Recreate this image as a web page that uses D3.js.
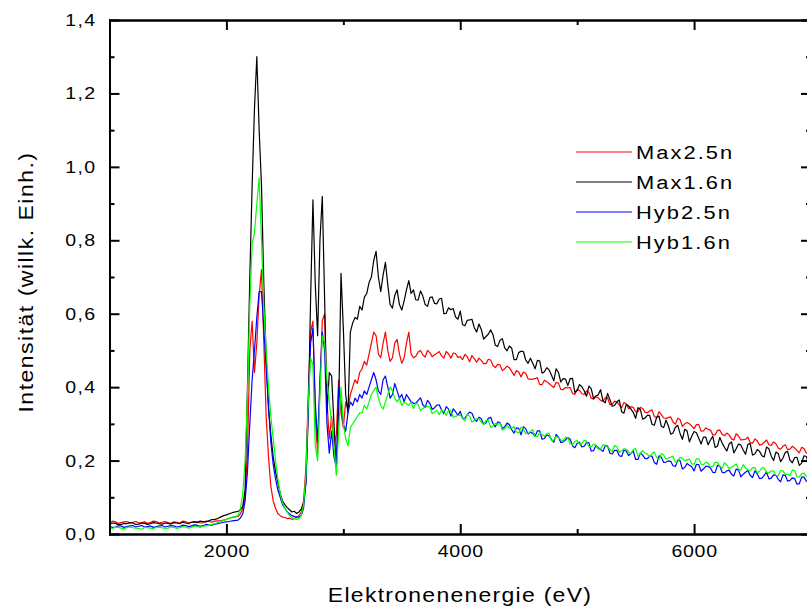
<!DOCTYPE html>
<html>
<head>
<meta charset="utf-8">
<script src="https://cdn.jsdelivr.net/npm/d3@7/dist/d3.min.js"></script>
<style>
  html, body { margin: 0; padding: 0; background: #fff; }
  svg { display: block; }
  text { font-family: "Liberation Sans", Arial, sans-serif; fill: #000; }
</style>
</head>
<body>
<svg id="chart" width="807" height="612"></svg>
<script>
// ---- data ----
// main sampling grid (eV)
const energy = [].concat(
  d3.range(1000, 2100, 50),
  d3.range(2100, 3600, 20),
  d3.range(3600, 7001, 40)
);
// in-between samples of the noisy flat parts (eV)
const energyMid = [].concat(
  d3.range(1025, 2050, 50),
  d3.range(3620, 7000, 40)
);

const max25 = [
  0.030,0.033,0.031,0.034,0.032,0.030,0.033,0.031,0.034,0.032,0.031,0.033,0.030,0.034,0.032,0.033,0.031,0.034,0.035,0.036,0.040,0.045,
  0.048,0.055,0.07,0.10,0.22,0.50,0.58,0.44,0.52,0.65, 0.72,0.52,0.32,0.21,0.13,0.09,0.07,0.056,0.05,0.046,
  0.045,0.042,0.043,0.04,0.042,0.045,0.05,0.06,0.09,0.18, 0.38,0.55,0.58,0.32,0.22,0.40,0.58,0.60,0.36,0.26,
  0.32,0.24,0.27,0.42,0.33,0.29,0.36,0.34,0.38,0.40, 0.42,0.41,0.44,0.45,0.47,0.46,0.49,0.52,0.55,0.54,
  0.49,0.48,0.52,0.55,0.50,0.47,0.48,0.52,0.53,0.49, 0.465,0.48,0.52,0.55,0.49,
  .480,.496,.488,.500,.483,.492,.485,.497,.479,.491, .483,.489,.469,.478,.479,.464,.476,.459,.462,.445,
  .457,.443,.445,.428,.438,.421,.423,.407,.419,.410, .399,.411,.393,.398,.383,.394,.382,.390,.370,.374,
  .364,.371,.352,.362,.352,.358,.341,.345,.333,.342, .330,.338,.317,.325,.315,.319,.299,.312,.300,.300,
  .287,.298,.281,.285,.270,.282,.271,.275,.259,.273, .256,.258,.249,.259,.242,.250,.243,.251,.234,.239,
  .230,.239,.228,.236,.221,.227
];
const max25Mid = [
  0.035,0.029,0.033,0.030,0.034,0.031,0.029,0.035,0.030,0.034,0.029,0.032,0.035,0.030,0.034,0.030,0.035,0.032,0.036,0.038,0.043,
  .484,.500,.482,.494,.488,.497,.479,.491,.493,.481, .475,.483,.486,.468,.473,.464,.474,.453,.461,.450,
  .453,.432,.441,.441,.423,.422,.426,.407,.415,.404, .413,.394,.399,.399,.380,.391,.380,.386,.367,.371,
  .361,.371,.353,.359,.344,.354,.347,.333,.345,.332, .335,.320,.333,.316,.317,.305,.315,.293,.304,.294,
  .298,.280,.289,.283,.270,.283,.268,.270,.256,.267, .257,.264,.247,.254,.244,.256,.241,.246,.231,.243,
  .231,.234,.221,.233,.221
];

const max16 = [
  0.027,0.029,0.026,0.028,0.030,0.027,0.029,0.028,0.030,0.027,0.029,0.031,0.028,0.030,0.032,0.031,0.034,0.036,0.040,0.046,0.052,0.058,
  .062,.066,.075,.12,.40,.70,.95,1.16,1.30,1.10, .95,.68,.48,.34,.27,.21,.17,.14,.11,.09,
  .08,.072,.066,.06,.062,.056,.06,.068,.085,.14, .32,.64,.91,.68,.54,.80,.92,.64,.33,.44,
  .43,.30,.18,.34,.71,.56,.38,.33,.55,.575, .59,.585,.62,.61,.645,.655,.685,.70,.745,.77,
  .70,.66,.705,.74,.68,.625,.615,.65,.665,.625, .61,.635,.665,.69,.655,
  .665,.637,.648,.620,.646,.627,.642,.601,.611,.591, .607,.567,.583,.562,.572,.531,.544,.543,.511,.532,
  .499,.506,.475,.498,.474,.479,.450,.471,.442,.447, .417,.440,.423,.404,.424,.391,.401,.375,.396,.376,
  .393,.357,.366,.350,.365,.329,.349,.331,.344,.313, .323,.299,.318,.293,.310,.272,.291,.274,.285,.251,
  .279,.261,.264,.243,.266,.239,.248,.226,.251,.232, .242,.217,.246,.218,.225,.210,.232,.200,.219,.207,
  .225,.194,.209,.193,.211,.192
];
const max16Mid = [
  0.030,0.025,0.029,0.031,0.026,0.030,0.026,0.031,0.028,0.030,0.027,0.030,0.032,0.028,0.033,0.035,0.033,0.039,0.042,0.050,0.055,
  .638,.662,.625,.644,.628,.640,.600,.616,.614,.585, .570,.582,.585,.550,.557,.538,.556,.514,.528,.507,
  .512,.475,.494,.497,.465,.465,.473,.438,.453,.433, .450,.414,.422,.423,.386,.407,.390,.403,.369,.379,
  .363,.383,.348,.360,.333,.353,.340,.315,.340,.316, .323,.296,.321,.290,.295,.275,.296,.258,.281,.266,
  .276,.245,.264,.256,.236,.263,.236,.245,.221,.245, .229,.244,.215,.230,.213,.237,.212,.223,.197,.222,
  .201,.208,.187,.213,.192
];

const hyb25 = [
  0.021,0.019,0.022,0.020,0.023,0.021,0.019,0.022,0.020,0.023,0.021,0.022,0.020,0.023,0.022,0.024,0.023,0.025,0.027,0.030,0.033,0.036,
  .038,.044,.055,.09,.17,.30,.42,.50,.59,.66, .66,.56,.45,.35,.25,.19,.15,.12,.10,.08,
  .07,.06,.055,.05,.048,.046,.046,.05,.07,.14, .35,.52,.56,.36,.25,.42,.55,.50,.30,.22,
  .28,.21,.18,.40,.36,.30,.28,.33,.36,.35, .37,.36,.38,.37,.39,.38,.40,.42,.44,.42,
  .39,.38,.42,.43,.40,.37,.38,.41,.39,.37, .38,.36,.38,.37,.36,
  .356,.364,.352,.364,.339,.351,.338,.347,.321,.333, .334,.316,.332,.313,.318,.299,.315,.301,.305,.287,
  .302,.284,.289,.270,.287,.277,.266,.281,.260,.267, .250,.264,.251,.263,.240,.247,.237,.249,.226,.241,
  .230,.240,.220,.228,.213,.228,.214,.226,.203,.215, .205,.212,.190,.209,.196,.198,.184,.200,.181,.187,
  .172,.189,.177,.184,.168,.187,.168,.172,.163,.177, .156,.168,.160,.172,.151,.160,.150,.161,.149,.161,
  .144,.153,.136,.155,.144,.158
];
const hyb25Mid = [
  0.018,0.022,0.018,0.022,0.019,0.023,0.020,0.018,0.022,0.019,0.023,0.019,0.024,0.020,0.025,0.021,0.026,0.024,0.028,0.032,0.034,
  .356,.371,.345,.356,.344,.352,.328,.340,.341,.323, .315,.325,.329,.307,.314,.303,.318,.292,.304,.292,
  .298,.275,.288,.292,.272,.274,.281,.258,.270,.258, .271,.249,.256,.258,.235,.250,.239,.249,.227,.235,
  .225,.240,.218,.228,.211,.226,.219,.203,.221,.206, .212,.195,.213,.195,.199,.186,.201,.177,.192,.183,
  .190,.171,.184,.180,.167,.185,.167,.174,.158,.174, .163,.173,.154,.164,.152,.169,.152,.160,.142,.160,
  .146,.151,.137,.155,.141
];

const hyb16 = [
  0.017,0.019,0.016,0.018,0.017,0.015,0.018,0.016,0.019,0.017,0.016,0.018,0.017,0.019,0.018,0.020,0.021,0.024,0.028,0.034,0.040,0.046,
  .05,.07,.11,.20,.38,.62,.79,.82,.90,.97, .80,.62,.50,.40,.32,.26,.20,.15,.11,.085,
  .07,.06,.05,.045,.042,.04,.042,.05,.08,.16, .36,.48,.46,.24,.20,.38,.54,.52,.42,.36,
  .30,.24,.16,.28,.40,.30,.26,.24,.29,.30, .31,.32,.33,.33,.35,.34,.36,.38,.39,.40,
  .37,.35,.34,.36,.38,.40,.39,.37,.36,.37, .35,.36,.355,.35,.36,
  .342,.352,.342,.348,.328,.337,.338,.323,.336,.320, .324,.308,.321,.309,.313,.298,.310,.295,.298,.283,
  .296,.288,.278,.291,.274,.279,.265,.276,.266,.275, .256,.262,.253,.262,.243,.255,.246,.253,.237,.242,
  .231,.242,.231,.241,.222,.232,.224,.230,.212,.227, .217,.219,.208,.219,.204,.209,.196,.209,.199,.204,
  .190,.205,.189,.193,.184,.195,.178,.188,.181,.191, .174,.180,.172,.181,.171,.180,.166,.172,.158,.172,
  .163,.174,.156,.164,.157,.169
];
const hyb16Mid = [
  0.015,0.018,0.014,0.019,0.016,0.013,0.017,0.014,0.018,0.015,0.019,0.015,0.020,0.016,0.021,0.018,0.022,0.026,0.031,0.037,0.043,
  .356,.336,.346,.346,.332,.325,.333,.336,.318,.323, .315,.326,.305,.314,.305,.309,.290,.301,.303,.287,
  .288,.293,.275,.285,.274,.284,.266,.271,.273,.254, .266,.257,.264,.246,.252,.244,.255,.238,.245,.231,
  .243,.237,.224,.238,.227,.231,.218,.233,.218,.221, .211,.223,.203,.215,.207,.212,.196,.206,.202,.191,
  .205,.190,.195,.182,.195,.185,.194,.178,.186,.176, .189,.175,.181,.167,.180,.168,.172,.160,.173,.162,
  .159,.173,.155,.166,.158
];

const seriesNames = ["Max2.5n", "Max1.6n", "Hyb2.5n", "Hyb1.6n"];
const seriesMain = [max25, max16, hyb25, hyb16];
const seriesMid = [max25Mid, max16Mid, hyb25Mid, hyb16Mid];
const seriesColors = ["#ff0000", "#000000", "#0000ff", "#00ff00"];

const xMajorTicks = [2000, 4000, 6000];
const xMinorTicks = [1000, 3000, 5000, 7000];
const yMajorTicks = [0, 0.2, 0.4, 0.6, 0.8, 1.0, 1.2, 1.4];
const yMinorTicks = [0.1, 0.3, 0.5, 0.7, 0.9, 1.1, 1.3];

// ---- layout ----
const L = 109.5, R = 811, T = 20, B = 534;
const SX = 1.15; // slight horizontal text stretch seen in the reference

const svg = d3.select("#chart");
const x = d3.scaleLinear().domain([1000, 7000]).range([L, R]);
const y = d3.scaleLinear().domain([0, 1.4]).range([B, T]);

svg.append("defs").append("clipPath").attr("id", "plotclip")
  .append("rect").attr("x", L).attr("y", T).attr("width", R - L).attr("height", B - T);

// series lines
const line = d3.line()
  .defined(d => d[1] != null && !isNaN(d[1]))
  .x(d => x(d[0])).y(d => y(d[1]));

const gLines = svg.append("g").attr("clip-path", "url(#plotclip)");
seriesMain.forEach((vals, i) => {
  const pts = energy.map((e, k) => [e, vals[k]])
    .concat(energyMid.map((e, k) => [e, seriesMid[i][k]]))
    .sort((a, b) => a[0] - b[0]);
  gLines.append("path")
    .datum(pts)
    .attr("fill", "none")
    .attr("stroke", seriesColors[i])
    .attr("stroke-width", 1.2)
    .attr("stroke-linejoin", "round")
    .attr("d", line);
});

// axes
const fmtY = v => d3.format(".1f")(v).replace(".", ",");
function styleAxis(g) {
  g.selectAll("path.domain").attr("stroke", "#000").attr("stroke-width", 2);
  g.selectAll(".tick line").attr("stroke", "#000").attr("stroke-width", 2);
}

// bottom
const gB = svg.append("g").attr("transform", `translate(0,${B})`)
  .call(d3.axisBottom(x).tickValues(xMajorTicks).tickSizeInner(-10).tickSizeOuter(0).tickPadding(11).tickFormat(d3.format("d")));
styleAxis(gB);
gB.selectAll(".tick text").attr("font-size", 17).attr("letter-spacing", 0.6)
  .attr("transform", `scale(${SX},1)`);
svg.append("g").attr("transform", `translate(0,${B})`)
  .call(d3.axisBottom(x).tickValues(xMinorTicks).tickSizeInner(-5).tickSizeOuter(0).tickFormat(""))
  .call(styleAxis);

// top
svg.append("g").attr("transform", `translate(0,${T})`)
  .call(d3.axisTop(x).tickValues(xMajorTicks).tickSizeInner(-10).tickSizeOuter(0).tickFormat(""))
  .call(styleAxis);
svg.append("g").attr("transform", `translate(0,${T})`)
  .call(d3.axisTop(x).tickValues(xMinorTicks).tickSizeInner(-5).tickSizeOuter(0).tickFormat(""))
  .call(styleAxis);

// left
const gL = svg.append("g").attr("transform", `translate(${L},0)`)
  .call(d3.axisLeft(y).tickValues(yMajorTicks).tickSizeInner(-10).tickSizeOuter(0).tickPadding(13).tickFormat(fmtY));
styleAxis(gL);
gL.selectAll(".tick text").attr("font-size", 17).attr("letter-spacing", 1.2)
  .attr("x", -13 / SX).attr("transform", `scale(${SX},1)`);
svg.append("g").attr("transform", `translate(${L},0)`)
  .call(d3.axisLeft(y).tickValues(yMinorTicks).tickSizeInner(-5).tickSizeOuter(0).tickFormat(""))
  .call(styleAxis);

// right
svg.append("g").attr("transform", `translate(${R},0)`)
  .call(d3.axisRight(y).tickValues(yMajorTicks).tickSizeInner(-10).tickSizeOuter(0).tickFormat(""))
  .call(styleAxis);
svg.append("g").attr("transform", `translate(${R},0)`)
  .call(d3.axisRight(y).tickValues(yMinorTicks).tickSizeInner(-5).tickSizeOuter(0).tickFormat(""))
  .call(styleAxis);

svg.selectAll(".domain").attr("stroke-linecap", "square");

// axis titles
svg.append("text")
  .attr("transform", `translate(460,602) scale(${SX},1)`)
  .attr("text-anchor", "middle")
  .attr("font-size", 20)
  .attr("letter-spacing", 1.1)
  .text("Elektronenenergie (eV)");

svg.append("text")
  .attr("transform", `translate(33,282) rotate(-90) scale(${SX},1)`)
  .attr("text-anchor", "middle")
  .attr("font-size", 20)
  .attr("letter-spacing", 1.3)
  .text("Intensität (willk. Einh.)");

// legend
const legY = [152, 182, 212, 242];
const gLeg = svg.append("g");
seriesNames.forEach((name, i) => {
  gLeg.append("line")
    .attr("x1", 576).attr("x2", 632)
    .attr("y1", legY[i]).attr("y2", legY[i])
    .attr("stroke", seriesColors[i]).attr("stroke-width", 1.2);
  gLeg.append("text")
    .attr("transform", `translate(636,${legY[i] + 7}) scale(${SX},1)`)
    .attr("font-size", 19)
    .attr("letter-spacing", 1.8)
    .text(name);
});
</script>
</body>
</html>
